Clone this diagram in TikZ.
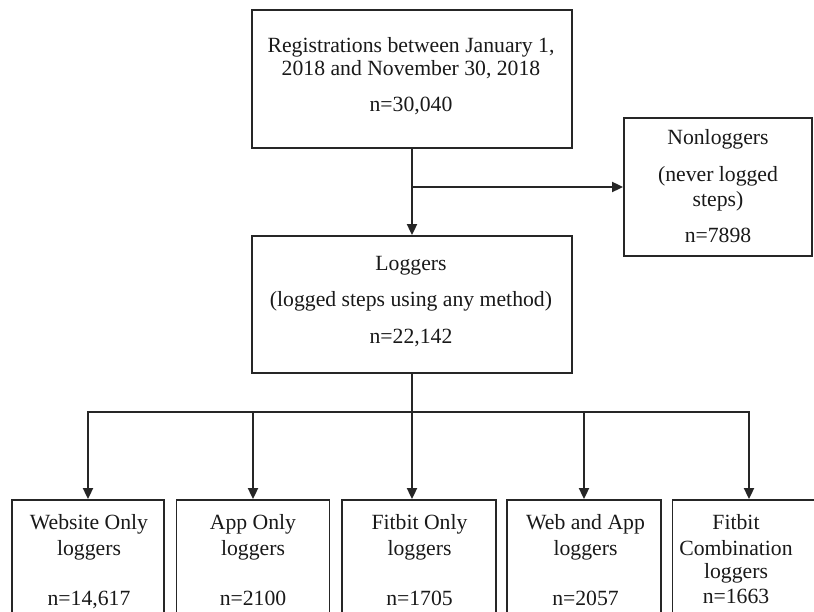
\documentclass[tikz,border=0pt]{standalone}
\usepackage{fontspec}
\setmainfont{Liberation Serif}
\usetikzlibrary{arrows.meta}
\begin{document}
\begin{tikzpicture}[x=1pt,y=-1pt,
  box/.style={draw=black!85,line width=1.8pt,rectangle,inner sep=0pt},
  txt/.style={anchor=base,inner sep=0pt,font=\fontsize{21.7}{24}\selectfont,text=black!90},
  conn/.style={draw=black!85,line width=1.8pt,-{Triangle[length=11pt,width=10pt]}},
  ln/.style={draw=black!85,line width=1.8pt}]
\useasboundingbox[fill=white] (0,0) rectangle (814,612);
% boxes
\node[box,minimum width=320pt,minimum height=138pt] (top) at (412,79) {};
\node[box,minimum width=188pt,minimum height=138pt] (nonlog) at (718,187) {};
\node[box,minimum width=320pt,minimum height=137pt] (log) at (412,304.5) {};
\node[box,minimum width=152pt,minimum height=130pt] (b1) at (88,565) {};
\node[box,minimum width=153pt,minimum height=130pt] (b2) at (253,565) {};
\node[box,minimum width=154pt,minimum height=130pt] (b3) at (419,565) {};
\node[box,minimum width=154pt,minimum height=130pt] (b4) at (584,565) {};
\node[box,minimum width=153pt,minimum height=130pt] (b5) at (749,565) {};
% texts
\node[txt] (t1a) at (411,53) {Registrations between January 1,};
\node[txt] (t1b) at (411,76) {2018 and November 30, 2018};
\node[txt] (t1c) at (411,112) {n=30,040};
\node[txt] (t2a) at (718,145) {Nonloggers};
\node[txt] (t2b) at (718,182) {(never logged};
\node[txt] (t2c) at (718,207) {steps)};
\node[txt] (t2d) at (718,243) {n=7898};
\node[txt] (t3a) at (411,271) {Loggers};
\node[txt] (t3b) at (411,307) {(logged steps using any method)};
\node[txt] (t3c) at (411,344) {n=22,142};
\node[txt] (t4a) at (89,529) {Website Only};
\node[txt] (t4b) at (89,555) {loggers};
\node[txt] (t4c) at (89,605) {n=14,617};
\node[txt] (t5a) at (253,529) {App Only};
\node[txt] (t5b) at (253,555) {loggers};
\node[txt] (t5c) at (253,605) {n=2100};
\node[txt] (t6a) at (419.5,529) {Fitbit Only};
\node[txt] (t6b) at (419.5,555) {loggers};
\node[txt] (t6c) at (419.5,605) {n=1705};
\node[txt] (t7a) at (585.5,529) {Web and App};
\node[txt] (t7b) at (585.5,555) {loggers};
\node[txt] (t7c) at (585.5,605) {n=2057};
\node[txt] (t8a) at (736,529) {Fitbit};
\node[txt] (t8b) at (736,555) {Combination};
\node[txt] (t8c) at (736,578) {loggers};
\node[txt] (t8d) at (736,603) {n=1663};
% connectors
\coordinate (j1) at (412,187);
\coordinate (bar) at (412,412);
\draw[conn] (top.south) -- (log.north);
\draw[conn] (j1) -- (nonlog.west);
\draw[ln] (log.south) -- (bar);
\draw[conn] (bar) -- (b3.north -| bar);
\draw[conn] (bar) -| (b1.north);
\draw[conn] (bar) -| (b2.north);
\draw[conn] (bar) -| (b4.north);
\draw[conn] (bar) -| (b5.north);
\end{tikzpicture}
\end{document}
